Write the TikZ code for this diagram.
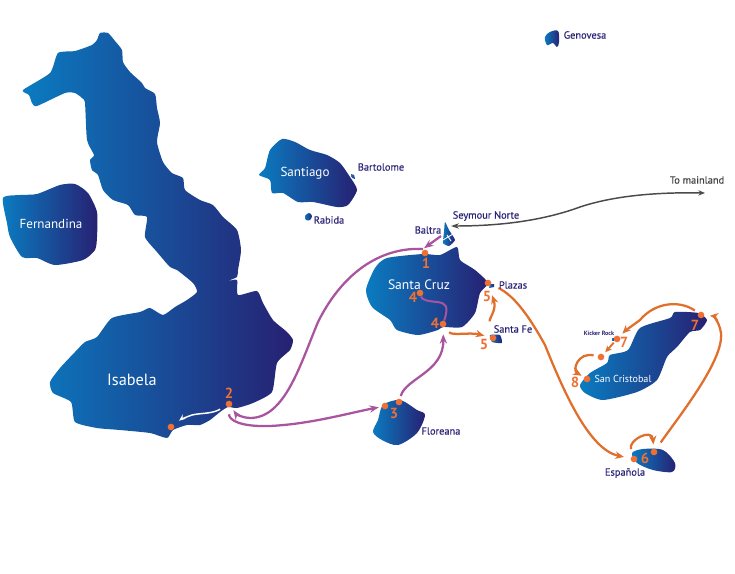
\documentclass[tikz,border=0pt]{standalone}
\usepackage{fontspec}
\setmainfont{PT Sans}
\usetikzlibrary{arrows.meta}
\definecolor{blueL}{HTML}{0A7CC1}
\definecolor{blueR}{HTML}{272072}
\definecolor{navy}{HTML}{2A2376}
\definecolor{org}{HTML}{F07033}
\definecolor{orgline}{HTML}{E06F2C}
\definecolor{purp}{HTML}{A9549F}
\definecolor{grayline}{HTML}{4A4A4A}
\tikzset{
  x=0.75pt,y=-0.75pt,
  isl/.style={left color=blueL,right color=blueR,draw=none},
  islsmall/.style={left color=blueL,right color=blueR,draw=none},
  dotn/.style={circle,fill=org,draw=none,inner sep=0pt,minimum size=5pt},
  num/.style={text=org,font=\bfseries\fontsize{11}{11}\selectfont,inner sep=0pt},
  lab/.style={text=navy,font=\addfontfeature{FakeBold=0.25}\fontsize{7.8}{8}\selectfont,inner sep=0pt},
  big/.style={text=white,font=\fontsize{9.8}{10}\selectfont,inner sep=0pt},
  pur/.style={draw=purp,line width=1.7pt,-{Stealth[length=7pt,width=5.5pt]}},
  ora/.style={draw=orgline,line width=1.7pt,-{Stealth[length=6.5pt,width=5.5pt]}},
  whi/.style={draw=white,line width=1.1pt,-{Stealth[length=5pt,width=4pt]}},
  gry/.style={draw=grayline,line width=1.1pt}
}
\begin{document}
\begin{tikzpicture}
\useasboundingbox (0,0) rectangle (735,574);
% Isabela
\path[isl] plot[smooth cycle,tension=0.35] coordinates {(100,33)(108,33)(115,41)(122,50)(123,62)(130,72)(142,83)(145,88)(155,94)(157,108)(160,123)(157,142)(163,162)(172,173)(183,178)(185,190)(200,200)(213,205)(223,217)(237,230)(241,250)(238,270)(237,277)(228,281)(237,280)(238,295)(257,291)(263,303)(273,320)(287,332)(293,340)(290,350)(277,363)(272,392)(253,403)(237,408)(228,407)(220,412)(210,420)(200,425)(187,425)(173,430)(167,438)(150,433)(120,430)(97,428)(75,422)(71,402)(53,393)(50,382)(60,368)(75,352)(85,342)(97,337)(112,318)(140,312)(150,308)(163,315)(175,307)(187,300)(197,292)(193,283)(177,270)(170,267)(157,252)(145,237)(147,217)(135,215)(128,205)(113,200)(103,190)(98,175)(92,170)(90,160)(94,155)(87,140)(85,103)(82,98)(75,93)(65,93)(37,106)(32,103)(29,95)(23,90)(50,73)(58,53)(75,51)(92,45)(97,40)};
% Fernandina
\path[isl] plot[smooth cycle,tension=0.4] coordinates {(3,198)(20,195)(37,194)(60,185)(75,184)(88,193)(97,212)(97,237)(95,250)(83,260)(55,265)(37,258)(22,257)(10,237)(7,223)};
% Santiago
\path[isl] plot[smooth cycle,tension=0.4] coordinates {(259,175)(265,168)(270,150)(282,139)(295,142)(310,150)(327,155)(340,163)(350,177)(357,190)(348,205)(337,207)(313,202)(298,202)(283,193)(272,193)(270,180)};
% Santa Cruz
\path[isl] plot[smooth cycle,tension=0.4] coordinates {(366,290)(375,268)(387,258)(423,254)(440,255)(457,247)(460,260)(475,270)(488,283)(480,293)(475,313)(462,327)(443,327)(438,330)(418,335)(397,330)(390,320)(372,307)};
% Floreana
\path[isl] plot[smooth cycle,tension=0.5] coordinates {(383,405)(400,400)(417,410)(425,415)(417,433)(398,445)(382,440)(373,432)(378,420)};
% San Cristobal
\path[isl] plot[smooth cycle,tension=0.4] coordinates {(580,385)(590,373)(607,363)(610,355)(628,350)(640,328)(670,318)(675,312)(698,313)(707,320)(700,330)(690,332)(677,347)(667,357)(657,380)(637,392)(603,400)(585,393)};
% Espanola
\path[isl] plot[smooth cycle,tension=0.5] coordinates {(632,453)(643,449)(663,450)(675,463)(672,472)(653,470)(637,463)};
% Small islands
\path[islsmall] plot[smooth cycle,tension=0.3] coordinates {(445,222)(449,230)(455,240)(449,246)(443,243)(444,232)};
\path[draw=white,line width=0.7pt] (443,240)--(453,234) (447,235)--(451,241);
\path[islsmall] plot[smooth cycle,tension=0.3] coordinates {(490,335)(500,335)(502,343)(492,342)};
\path[islsmall] (490,284)--(494,284)--(494,287)--(489,288)--cycle;
\path[islsmall] plot[smooth cycle,tension=0.6] coordinates {(545,37)(550,32)(558,31)(559,42)(557,47)(553,43)(547,45)};
\path[islsmall] (351,174)--(354,175)--(355,179)--(352,178)--cycle;
\path[islsmall] plot[smooth cycle,tension=0.6] coordinates {(305,216)(309,213)(312,216)(310,220)(306,220)};
\path[islsmall] (612,338)--(614,338)--(614,340)--(612,340)--cycle;
% Dots
\node[dotn] (d1) at (425,253) {};
\node[dotn] (d2) at (229,404) {};
\node[dotn] (dsw) at (171,427) {};
\node[dotn] (d3a) at (385,406) {};
\node[dotn] (d3b) at (399,402) {};
\node[dotn] (d4a) at (420,293) {};
\node[dotn] (d4b) at (443,324) {};
\node[dotn] (dfe) at (493,338) {};
\node[dotn] (dpl) at (488,283) {};
\node[dotn] (d6a) at (634,459) {};
\node[dotn] (d6b) at (654,452) {};
\node[dotn] (d7a) at (701,315) {};
\node[dotn] (d7b) at (617,339) {};
\node[dotn] (d7c) at (601,357) {};
\node[dotn] (d8) at (587,379) {};
\coordinate (seym) at (441,236);
\coordinate (main) at (705,193);
\coordinate (snw) at (451,226);
\coordinate (d1top) at (423,249);
% Purple routes
\draw[pur,shorten >=3pt] (d1top) .. controls (385,247) and (345,268) .. (318,322) .. controls (300,365) and (285,418) .. (250,418) .. controls (243,418) and (236,414) .. (d2);
\draw[pur,shorten >=1pt] (seym) -- (d1top);
\draw[pur,shorten <=5pt,shorten >=2pt] (d2) .. controls (229,420) and (240,427) .. (270,426) .. controls (310,424) and (345,414) .. (d3a);
\draw[pur,shorten <=2pt,shorten >=5pt] (d3b) .. controls (406,378) and (444,372) .. (d4b);
\draw[purp,line width=1.5pt] (d4b) .. controls (449,306) and (446,303) .. (437,302) .. controls (427,301) and (422,300) .. (d4a);
% White route
\draw[whi,shorten <=5pt,shorten >=5pt] (d2) .. controls (212,414) and (200,413) .. (192,415) .. controls (186,417) and (180,420) .. (dsw);
% Orange routes
\draw[ora,shorten <=5pt,shorten >=4pt] (d4b) .. controls (452,336) and (470,332) .. (dfe);
\draw[ora,shorten <=10pt,shorten >=7pt] (dfe) .. controls (489,318) and (497,310) .. (dpl);
\draw[ora,shorten <=6pt,shorten >=5pt] (dpl) .. controls (515,296) and (530,318) .. (545,345) .. controls (565,395) and (590,450) .. (d6a);
\draw[ora,shorten <=5pt,shorten >=3pt] (d6a) .. controls (628,440) and (652,428) .. (d6b);
\draw[ora,shorten <=6pt,shorten >=4pt] (d6b) .. controls (680,415) and (724,360) .. (721,333) .. controls (719,320) and (712,316) .. (d7a);
\draw[ora,shorten <=3pt,shorten >=3pt] (d7a) .. controls (680,300) and (655,302) .. (640,320) .. controls (632,326) and (626,330) .. (d7b);
\draw[ora,line width=1.4pt,-{Stealth[length=5pt,width=4.5pt]},shorten <=1pt,shorten >=2pt] (d7b) -- (d7c);
\draw[ora,shorten <=3pt,shorten >=2pt] (d7c) .. controls (578,352) and (572,370) .. (d8);
% Mainland line
\draw[gry,{Stealth[length=6pt,width=4pt]}-{Stealth[length=5pt,width=4pt]}] (snw) .. controls (510,226) and (550,218) .. (580,207) .. controls (610,197) and (650,192) .. (main);
% Numbers
\node[num] (n1) at (426,263) {1};
\node[num] (n2) at (229,393) {2};
\node[num] (n3) at (394,413) {3};
\node[num] (n4a) at (413,297) {4};
\node[num] (n4b) at (435,323) {4};
\node[num] (n5a) at (484,344) {5};
\node[num] (n5b) at (487,296) {5};
\node[num] (n6) at (645,458) {6};
\node[num] (n7a) at (695,325) {7};
\node[num] (n7b) at (624,342) {7};
\node[num] (n8) at (575,382) {8};
% Labels
\node[big,font=\fontsize{12.2}{12}\selectfont] (lisa) at (132,380) {Isabela};
\node[big] (lfer) at (51,224) {Fernandina};
\node[big] (lsan) at (305,173) {Santiago};
\node[big,font=\fontsize{10.2}{10}\selectfont] (lcru) at (419,285) {Santa Cruz};
\node[big,font=\fontsize{7.6}{8}\selectfont] (lcri) at (623,379) {San Cristobal};
\node[lab] (lsey) at (486,216) {Seymour Norte};
\node[lab] (lbal) at (428,230) {Baltra};
\node[lab] (lpla) at (513,285) {Plazas};
\node[lab] (lfe) at (513,329) {Santa Fe};
\node[lab] (lflo) at (441,431) {Floreana};
\node[lab] (lesp) at (625,473) {Española};
\node[lab] (lgen) at (585,35) {Genovesa};
\node[lab] (lbar) at (381,167) {Bartolome};
\node[lab] (lrab) at (329,220) {Rabida};
\node[lab,font=\bfseries\fontsize{4.6}{5}\selectfont] (lkic) at (599,333) {Kicker Rock};
\node[lab,text=black!75] (lmai) at (697,180) {To mainland};
\end{tikzpicture}
\end{document}
